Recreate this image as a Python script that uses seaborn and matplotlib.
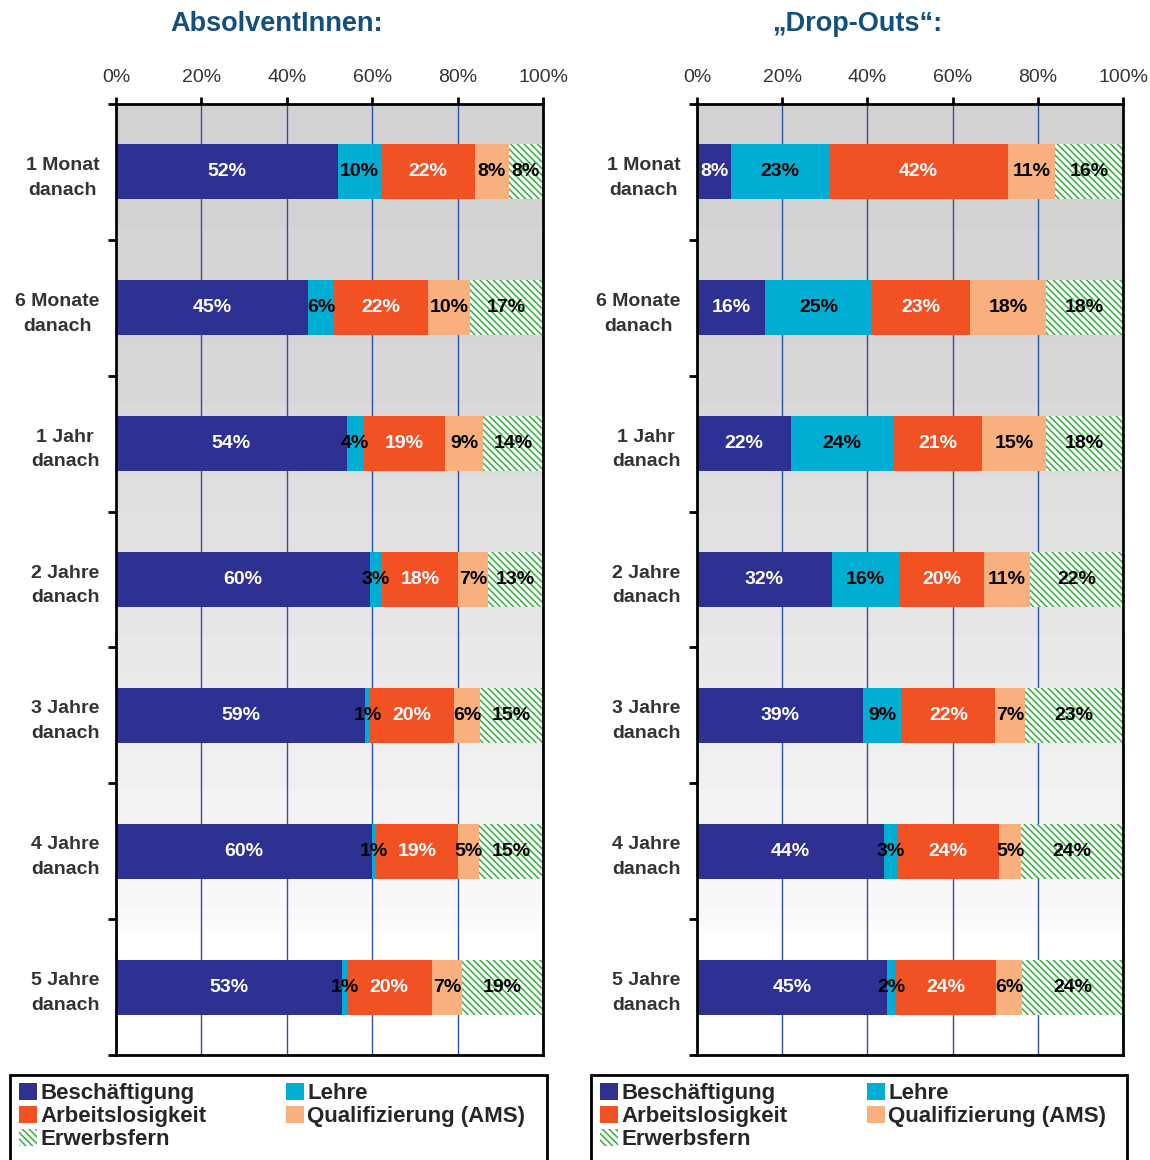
import numpy as np
import pandas as pd
import matplotlib
matplotlib.use("Agg")
import matplotlib.pyplot as plt
import matplotlib.patches as mpatches
import seaborn as sns

# ---------------- data ----------------
categories = ["1 Monat\ndanach", "6 Monate\ndanach", "1 Jahr\ndanach", "2 Jahre\ndanach",
              "3 Jahre\ndanach", "4 Jahre\ndanach", "5 Jahre\ndanach"]
series_names = ["Beschäftigung", "Lehre", "Arbeitslosigkeit", "Qualifizierung (AMS)", "Erwerbsfern"]

abs_besch = [52, 45, 54, 60, 59, 60, 53]
abs_lehre = [10, 6, 4, 3, 1, 1, 1]
abs_al = [22, 22, 19, 18, 20, 19, 20]
abs_qual = [8, 10, 9, 7, 6, 5, 7]
abs_erw = [8, 17, 14, 13, 15, 15, 19]

do_besch = [8, 16, 22, 32, 39, 44, 45]
do_lehre = [23, 25, 24, 16, 9, 3, 2]
do_al = [42, 23, 21, 20, 22, 24, 24]
do_qual = [11, 18, 15, 11, 7, 5, 6]
do_erw = [16, 18, 18, 22, 23, 24, 24]

x_ticks = [0, 20, 40, 60, 80, 100]
x_ticklabels = ["0%", "20%", "40%", "60%", "80%", "100%"]
titles = ["AbsolventInnen:", "\u201eDrop-Outs\u201c:"]

# ---------------- style ----------------
sns.set_style("white")
plt.rcParams["font.family"] = ["Liberation Sans", "DejaVu Sans"]
plt.rcParams["hatch.linewidth"] = 1.2

colors = ["#2e3192", "#00aed4", "#f15123", "#f9b07f", "#ffffff"]
hatch_green = "#3db54a"
label_colors = ["white", "black", "white", "black", "black"]
HATCH = "\\\\\\\\\\"

W, H = 1150, 1160
fig = plt.figure(figsize=(W / 100, H / 100), dpi=100)

panels = [
    (116, 427, [abs_besch, abs_lehre, abs_al, abs_qual, abs_erw]),
    (697, 426, [do_besch, do_lehre, do_al, do_qual, do_erw]),
]
ax_top, ax_bot = 104, 1055

# background gradient (grey at top fading to white)
py = np.linspace(ax_top, ax_bot, 200)
grey = np.interp(py, [104, 300, 400, 500, 600, 700, 800, 900, 930, 931, 1055],
                 [210, 212, 216, 223, 229, 235, 242, 248, 250, 255, 255])
grey = np.round(grey / 2.5) * 2.5 / 255.0
grad = np.repeat(grey[:, None], 2, axis=1)

for p, (left, width, series) in enumerate(panels):
    ax = fig.add_axes([left / W, 1 - ax_bot / H, width / W, (ax_bot - ax_top) / H])
    vals = np.array(series, dtype=float).T  # rows = categories
    norm = vals / vals.sum(axis=1, keepdims=True) * 100
    cum = np.cumsum(norm, axis=1)

    ax.imshow(grad, cmap="gray", vmin=0, vmax=1, extent=(0, 100, 6.5, -0.5),
              aspect="auto", zorder=0, interpolation="nearest")
    for gx in [20, 40, 60, 80]:
        ax.axvline(gx, color="#2f4f9f", lw=1.0, zorder=1)

    df = pd.DataFrame({"cat": categories})
    for i in reversed(range(5)):
        df["v"] = cum[:, i]
        kw = dict(color=colors[i], saturation=1, linewidth=0, width=0.405,
                  errorbar=None, orient="h", zorder=2)
        if i == 4:
            kw.update(hatch=HATCH, edgecolor=hatch_green)
        sns.barplot(data=df, x="v", y="cat", ax=ax, **kw)

    # labels
    for r in range(len(categories)):
        start = 0.0
        for i in range(5):
            w = norm[r, i]
            ax.text(start + w / 2, r, f"{int(vals[r, i])}%", ha="center", va="center",
                    color=label_colors[i], fontsize=14, fontweight="bold", zorder=5)
            start += w

    ax.set_xlim(0, 100)
    ax.set_ylim(6.5, -0.5)
    ax.set_xlabel("")
    ax.set_ylabel("")
    ax.xaxis.tick_top()
    ax.set_xticks(x_ticks)
    ax.set_xticklabels(x_ticklabels)
    ax.tick_params(axis="x", which="major", direction="out", length=5, width=2,
                   color="black", labelsize=14, labelcolor="#333333", pad=8,
                   top=True, bottom=False)
    ax.set_yticks(np.arange(-0.5, 7, 1.0))
    ax.set_yticklabels([])
    ax.set_yticks(np.arange(7), minor=True)
    ax.set_yticklabels(categories, minor=True, fontsize=14, fontweight="bold",
                       color="#333333", linespacing=1.6)
    ax.tick_params(axis="y", which="major", direction="out", length=6, width=2,
                   color="black", left=True)
    ax.tick_params(axis="y", which="minor", length=0, pad=12)
    for lbl in ax.get_yticklabels(minor=True):
        lbl.set_multialignment("center")
    for s in ax.spines.values():
        s.set_visible(True)
        s.set_color("black")
        s.set_linewidth(2)
    ax.grid(False)

    # title
    cx = [277, 857][p]
    fig.text(cx / W, 1 - 24 / H, titles[p], ha="center", va="center",
             fontsize=19.5, fontweight="bold", color="#14507e")

    # legend box
    bx0 = [10, 591][p]
    bx1 = [547, 1127][p]
    rect = mpatches.Rectangle((bx0 / W, -0.03), (bx1 - bx0) / W, (1 - 1075 / H) + 0.03,
                              transform=fig.transFigure, fill=False, edgecolor="black",
                              lw=2, clip_on=False)
    fig.add_artist(rect)
    handles = [
        mpatches.Patch(facecolor=colors[0], linewidth=0),
        mpatches.Patch(facecolor=colors[2], linewidth=0),
        mpatches.Patch(facecolor="white", edgecolor=hatch_green, hatch=HATCH, linewidth=0),
        mpatches.Patch(facecolor=colors[1], linewidth=0),
        mpatches.Patch(facecolor=colors[3], linewidth=0),
    ]
    labels = [series_names[0], series_names[2], series_names[4], series_names[1], series_names[3]]
    fig.legend(handles, labels, loc="upper left",
               bbox_to_anchor=((bx0 + 9) / W, 1 - 1083 / H), bbox_transform=fig.transFigure,
               ncol=2, frameon=False, prop={"weight": "bold", "size": 16},
               handlelength=0.8, handleheight=0.8, handletextpad=0.15,
               labelspacing=0.08, columnspacing=3.6, borderaxespad=0, borderpad=0)

fig.savefig("out.png", dpi=100)
